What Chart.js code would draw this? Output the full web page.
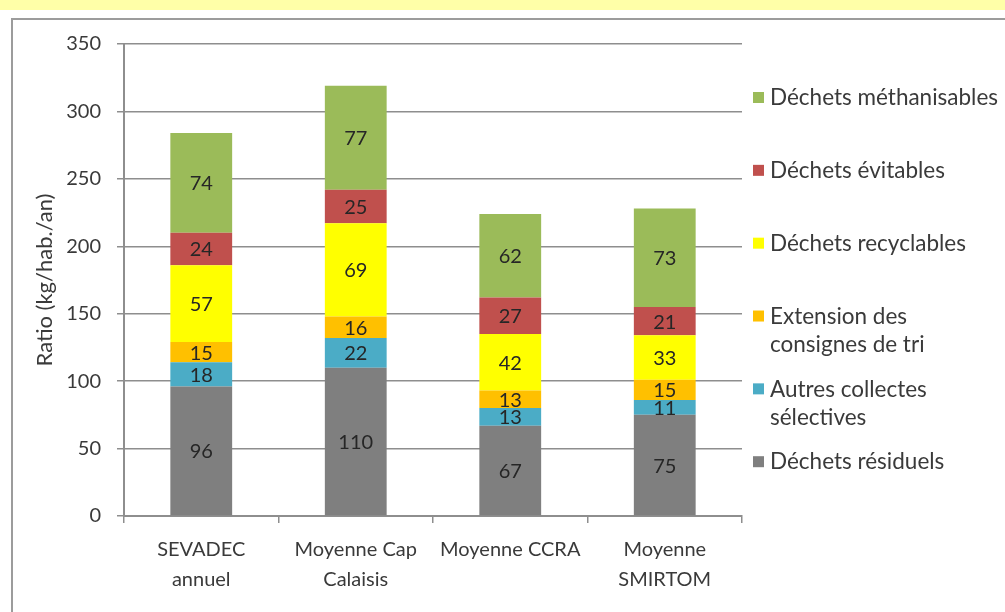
<!DOCTYPE html>
<html>
<head>
<meta charset="utf-8">
<script src="https://cdn.jsdelivr.net/npm/chart.js@4.4.1/dist/chart.umd.min.js"></script>
<style>
  html, body { margin: 0; padding: 0; background: #fff; overflow: hidden; }
  #strip { position: absolute; left: 0; top: 0; width: 1005px; height: 10px; background: #ffffa8; }
  #frame { position: absolute; left: 11px; top: 18px; width: 1100px; height: 700px; border: 2px solid #9c9c9c; }
  #wrap { position: absolute; left: 0; top: 0; width: 1005px; height: 612px; }
</style>
</head>
<body>
<div id="strip"></div>
<div id="frame"></div>
<div id="wrap"><canvas id="wasteChart"></canvas></div>
<script>
// --- data ---
const categories = [['SEVADEC', 'annuel'], ['Moyenne Cap', 'Calaisis'], ['Moyenne CCRA'], ['Moyenne', 'SMIRTOM']];

const residuels     = [96, 110, 67, 75];
const autres        = [18, 22, 13, 11];
const extension     = [15, 16, 13, 15];
const recyclables   = [57, 69, 42, 33];
const evitables     = [24, 25, 27, 21];
const methanisables = [74, 77, 62, 73];

const yTicks = [0, 50, 100, 150, 200, 250, 300, 350];

const FONT = 'Lato, "Open Sans", sans-serif';
const TEXT = '#3a3a3a';
const GRID = '#8e8e8e';

const series = [
    { label: ['Déchets résiduels'], data: residuels, color: '#7f7f7f' },
    { label: ['Autres collectes', 'sélectives'], data: autres, color: '#4bacc6' },
    { label: ['Extension des', 'consignes de tri'], data: extension, color: '#ffc000' },
    { label: ['Déchets recyclables'], data: recyclables, color: '#ffff00' },
    { label: ['Déchets évitables'], data: evitables, color: '#c0504d' },
    { label: ['Déchets méthanisables'], data: methanisables, color: '#9bbb59' }
];

// values written in the middle of each segment
const segmentLabels = {
    id: 'segmentLabels',
    afterDatasetsDraw(chart) {
        const ctx = chart.ctx;
        ctx.save();
        ctx.font = '20px ' + FONT;
        ctx.fillStyle = '#262626';
        ctx.textAlign = 'center';
        ctx.textBaseline = 'middle';
        chart.data.datasets.forEach((ds, i) => {
            chart.getDatasetMeta(i).data.forEach((bar, j) => {
                ctx.fillText(ds.data[j], bar.x, (bar.y + bar.base) / 2 + 1);
            });
        });
        ctx.restore();
    }
};

// legend on the right, top entry = last series, with wrapped labels
const sideLegend = {
    id: 'sideLegend',
    afterDraw(chart) {
        const ctx = chart.ctx;
        const area = chart.chartArea;
        const ds = chart.data.datasets.slice().reverse();
        const x = area.right + 11;
        const step = area.height / 6.48;
        ctx.save();
        ctx.font = '22.5px ' + FONT;
        ctx.textBaseline = 'middle';
        ds.forEach((d, i) => {
            const y = area.top + 54 + i * step;
            ctx.fillStyle = d.backgroundColor;
            ctx.fillRect(x, y - 6, 11, 11);
            ctx.fillStyle = TEXT;
            d.label.forEach((line, k) => {
                ctx.fillText(line, x + 17, y + k * 28.5);
            });
        });
        ctx.restore();
    }
};

new Chart(document.getElementById('wasteChart'), {
    type: 'bar',
    data: {
        labels: categories,
        datasets: series.map(s => ({
            label: s.label,
            data: s.data,
            backgroundColor: s.color,
            borderWidth: 0,
            categoryPercentage: 1,
            barPercentage: 0.4
        }))
    },
    options: {
        responsive: true,
        maintainAspectRatio: false,
        animation: false,
        layout: { padding: { top: 44, right: 263, bottom: 0, left: 0 } },
        plugins: {
            legend: { display: false },
            tooltip: { enabled: false }
        },
        scales: {
            x: {
                stacked: true,
                grid: { drawOnChartArea: false, drawTicks: true, tickLength: 7, color: GRID, lineWidth: 1.5 },
                border: { color: GRID, width: 2 },
                ticks: {
                    color: TEXT,
                    padding: 12,
                    maxRotation: 0,
                    font: { family: FONT, size: 20, lineHeight: 1.5 }
                },
                afterFit: scale => { scale.height = 96; }
            },
            y: {
                stacked: true,
                min: 0,
                max: 350,
                afterBuildTicks: scale => { scale.ticks = yTicks.map(v => ({ value: v })); },
                grid: { color: GRID, lineWidth: 1.5, tickLength: 7 },
                border: { color: GRID, width: 2 },
                ticks: {
                    color: TEXT,
                    padding: 16,
                    font: { family: FONT, size: 20 }
                },
                title: {
                    display: true,
                    text: 'Ratio (kg/hab./an)',
                    color: TEXT,
                    padding: { top: 32, bottom: 0 },
                    font: { family: FONT, size: 22 }
                },
                afterFit: scale => { scale.width = 124; }
            }
        }
    },
    plugins: [segmentLabels, sideLegend]
});
</script>
</body>
</html>
